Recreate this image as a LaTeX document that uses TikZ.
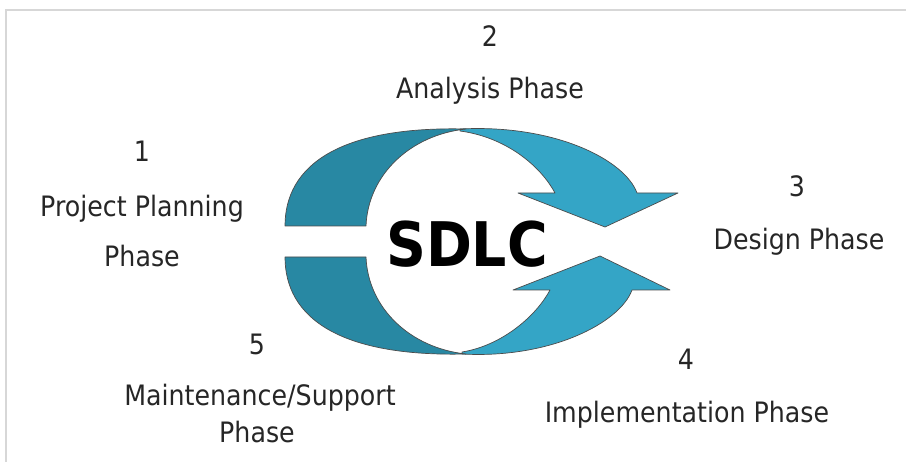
\documentclass[tikz,border=0pt]{standalone}
\usepackage{fontspec}
\setmainfont{DejaVu Sans}[FakeStretch=0.9]
\definecolor{sdlcdark}{RGB}{40,136,163}
\definecolor{sdlclight}{RGB}{52,165,198}
\definecolor{framegray}{RGB}{215,215,215}
\tikzset{
  phase/.style={anchor=base, inner sep=0pt, text=black!85,
    font=\fontsize{16}{19}\selectfont},
  back/.style={fill=sdlcdark, draw=black!70, line width=0.4pt, line join=round},
  front/.style={fill=sdlclight, draw=black!70, line width=0.4pt, line join=round}
}
\begin{document}
\begin{tikzpicture}[x=0.02cm, y=-0.02cm]
	\useasboundingbox (0,0) rectangle (906,462);
	\draw[framegray, line width=0.04cm] (6,462) -- (6,10) -- (906,10);

	% upper arrow
	\draw[front] (460,129) .. controls (555,124) and (625,160) .. (637,193)
	  -- (678,193) -- (605,227) -- (518,193) -- (555,193)
	  .. controls (540,165) and (505,137) .. (460,131) -- cycle;
	\draw[back] (285,226) -- (366,226) .. controls (368,175) and (410,135) .. (466,129)
	  .. controls (340,126) and (285,165) .. cycle;

	% lower arrow
	\draw[front] (462,354) .. controls (550,359) and (620,323) .. (632,290)
	  -- (670,290) -- (600,256) -- (513,290) -- (550,290)
	  .. controls (535,318) and (500,346) .. (462,352) -- cycle;
	\draw[back] (285,257) -- (366,257) .. controls (368,308) and (410,348) .. (466,354)
	  .. controls (340,357) and (285,318) .. cycle;

	\node[anchor=base, inner sep=0pt, font=\fontsize{35}{40}\selectfont\bfseries] at (467,267) (sdlc) {SDLC};

	% phases
	\node[phase] at (142,162) (n1)   {1};
	\node[phase] at (142,217) (p1a)  {Project Planning};
	\node[phase] at (142,267) (p1b)  {Phase};

	\node[phase] at (490,47)  (n2)   {2};
	\node[phase] at (490,99)  (p2)   {Analysis Phase};

	\node[phase] at (797,197) (n3)   {3};
	\node[phase] at (799,250) (p3)   {Design Phase};

	\node[phase] at (686,370) (n4)   {4};
	\node[phase] at (687,422) (p4)   {Implementation Phase};

	\node[phase] at (257,355) (n5)   {5};
	\node[phase] at (260,406) (p5a)  {Maintenance/Support};
	\node[phase] at (257,442) (p5b)  {Phase};
\end{tikzpicture}
\end{document}
